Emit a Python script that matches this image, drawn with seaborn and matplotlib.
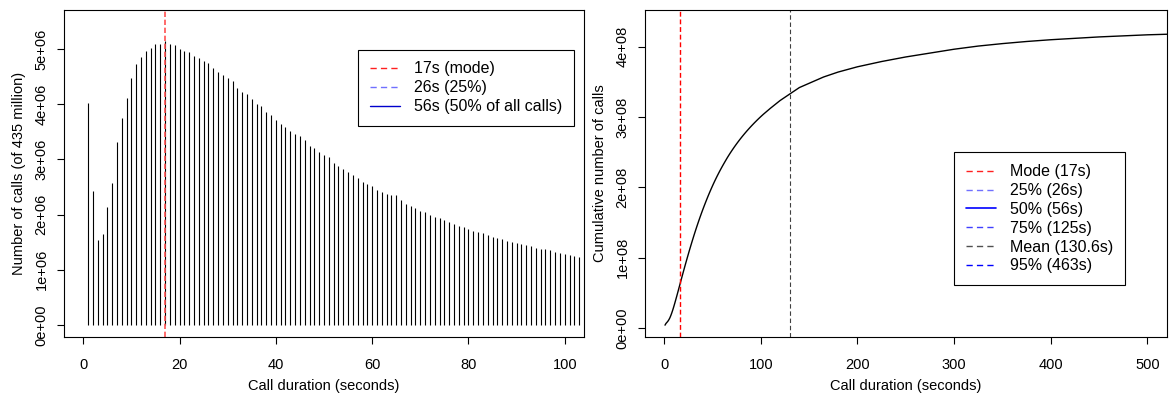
import numpy as np
import matplotlib
matplotlib.use("Agg")
import matplotlib.pyplot as plt
from matplotlib.lines import Line2D
from matplotlib.ticker import FuncFormatter
import seaborn as sns
import pandas as pd

# ---- data ----
durations = list(range(1, 104))  # seconds
calls_millions = [
    4.03, 2.43, 1.54, 1.64, 2.14, 2.58, 3.31, 3.75, 4.11, 4.47,
    4.73, 4.86, 4.96, 5.03, 5.10, 5.10, 5.14, 5.10, 5.07, 5.01,
    4.97, 4.95, 4.87, 4.84, 4.79, 4.75, 4.65, 4.59, 4.53, 4.47,
    4.43, 4.29, 4.23, 4.18, 4.09, 4.01, 3.97, 3.86, 3.80, 3.72,
    3.65, 3.58, 3.52, 3.46, 3.42, 3.35, 3.25, 3.20, 3.14, 3.09,
    3.04, 2.94, 2.89, 2.82, 2.78, 2.71, 2.66, 2.60, 2.55, 2.51,
    2.45, 2.41, 2.38, 2.36, 2.35, 2.27, 2.20, 2.16, 2.12, 2.07,
    2.04, 2.00, 1.96, 1.93, 1.90, 1.87, 1.83, 1.80, 1.77, 1.74,
    1.71, 1.68, 1.66, 1.63, 1.60, 1.58, 1.55, 1.53, 1.51, 1.49,
    1.46, 1.44, 1.43, 1.40, 1.38, 1.37, 1.35, 1.32, 1.31, 1.29,
    1.27, 1.25, 1.23,
]
# cumulative curve beyond the histogram range
tail_durations = [110, 120, 131, 140, 150, 165, 180, 200, 225, 250, 275, 300,
                  325, 350, 375, 400, 425, 450, 475, 500, 525]
tail_cumulative_e8 = [3.125, 3.235, 3.337, 3.42, 3.48, 3.57, 3.64, 3.715, 3.79,
                      3.855, 3.91, 3.965, 4.01, 4.045, 4.075, 4.10, 4.12, 4.14,
                      4.155, 4.17, 4.18]

mode_s = 17
mean_s = 130.6
left_legend_labels = ["17s (mode)", "26s (25%)", "56s (50% of all calls)"]
right_legend_labels = ["Mode (17s)", "25% (26s)", "50% (56s)", "75% (125s)",
                       "Mean (130.6s)", "95% (463s)"]

counts = np.array(calls_millions) * 1e6
hist_df = pd.DataFrame({"duration": durations, "calls": counts})
cum_df = pd.DataFrame({
    "duration": list(durations) + tail_durations,
    "cumulative": list(np.cumsum(counts)) + [v * 1e8 for v in tail_cumulative_e8],
})

# ---- style ----
sns.set_theme(style="ticks")
plt.rcParams["font.family"] = ["Liberation Sans", "DejaVu Sans"]
FS = 10.5
LFS = 11.5
plt.rcParams.update({
    "axes.edgecolor": "black", "axes.linewidth": 0.8,
    "xtick.color": "black", "ytick.color": "black",
    "xtick.labelcolor": "black", "ytick.labelcolor": "black",
    "axes.labelcolor": "black", "text.color": "black",
    "font.size": FS, "xtick.labelsize": FS, "ytick.labelsize": FS,
    "axes.labelsize": FS, "legend.fontsize": LFS,
})

W, H = 1169, 399
fig = plt.figure(figsize=(W / 100, H / 100), dpi=100)
ax1 = fig.add_axes([64 / W, 1 - 337 / H, (584 - 64) / W, (337 - 9.5) / H])
ax2 = fig.add_axes([644.7 / W, 1 - 337 / H, (1166.8 - 644.7) / W, (337 - 9.5) / H])

r_fmt = FuncFormatter(lambda v, p: "{:.0e}".format(v))
DASH = (4.5, 3)
LEG_KW = dict(loc="upper left", bbox_transform=fig.transFigure, borderaxespad=0,
              fancybox=False, edgecolor="black", framealpha=1, borderpad=0.75,
              handlelength=1.87, handletextpad=0.9, labelspacing=0.24)

# ---- left: histogram-like spikes ----
ax1.vlines(hist_df["duration"], 0, hist_df["calls"], color="black", lw=0.8)
ax1.axvline(mode_s, color="#ff5050", lw=1.2, dashes=(3.2, 1.6))
ax1.set_xlim(-4, 104)
ax1.set_ylim(-0.22e6, 5.72e6)
ax1.set_xticks([0, 20, 40, 60, 80, 100])
ax1.set_yticks([0, 1e6, 2e6, 3e6, 4e6, 5e6])
ax1.yaxis.set_major_formatter(r_fmt)
ax1.set_xlabel("Call duration (seconds)", labelpad=5)
ax1.set_ylabel("Number of calls (of 435 million)", labelpad=6)

h1 = [Line2D([], [], color="#ff2020", lw=1.0, dashes=DASH),
      Line2D([], [], color="#7070ff", lw=1.0, dashes=DASH),
      Line2D([], [], color="#0000cc", lw=1.0)]
leg1 = ax1.legend(h1, left_legend_labels, bbox_to_anchor=(358 / W, 1 - 49.5 / H), **LEG_KW)
leg1.get_frame().set_linewidth(0.8)

# ---- right: cumulative curve ----
sns.lineplot(data=cum_df, x="duration", y="cumulative", ax=ax2, color="black", lw=1.0)
ax2.axvline(mode_s, color="red", lw=1.0, dashes=(3.5, 2))
ax2.axvline(mean_s, color="#404040", lw=0.8, dashes=(4, 2.5))
ax2.set_xlim(-20, 520)
ax2.set_ylim(-1.28e7, 4.53e8)
ax2.set_xticks([0, 100, 200, 300, 400, 500])
ax2.set_yticks([0, 1e8, 2e8, 3e8, 4e8])
ax2.yaxis.set_major_formatter(r_fmt)
ax2.set_xlabel("Call duration (seconds)", labelpad=5)
ax2.set_ylabel("Cumulative number of calls", labelpad=6)

h2 = [Line2D([], [], color="#ff2020", lw=1.0, dashes=DASH),
      Line2D([], [], color="#7070ff", lw=1.0, dashes=DASH),
      Line2D([], [], color="#0000ff", lw=1.2),
      Line2D([], [], color="#4040ff", lw=1.0, dashes=DASH),
      Line2D([], [], color="#505050", lw=1.0, dashes=DASH),
      Line2D([], [], color="#0000ff", lw=1.0, dashes=DASH)]
leg2 = ax2.legend(h2, right_legend_labels, bbox_to_anchor=(954 / W, 1 - 152.3 / H), **LEG_KW)
leg2.get_frame().set_linewidth(0.8)

for ax in (ax1, ax2):
    for s in ax.spines.values():
        s.set_visible(True)
        s.set_color("black")
        s.set_linewidth(0.8)
    ax.tick_params(axis="both", direction="out", length=5, width=0.8)
    ax.tick_params(axis="x", pad=10)
    ax.tick_params(axis="y", pad=6, labelrotation=90)
    for lab in ax.get_yticklabels():
        lab.set_verticalalignment("center")

fig.savefig("out.png", dpi=100)
